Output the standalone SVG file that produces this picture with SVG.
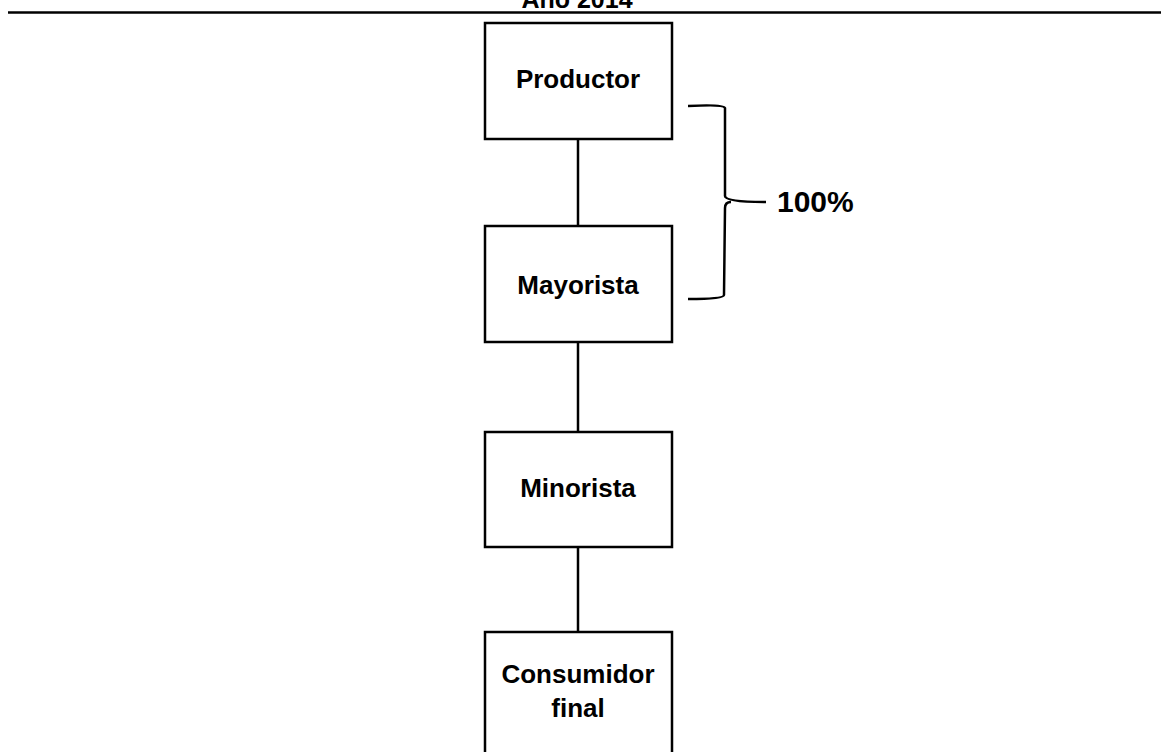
<svg xmlns="http://www.w3.org/2000/svg" width="1161" height="752" viewBox="0 0 1161 752">
<style>
.box{fill:#fff;stroke:#000;stroke-width:2.5}
.lbl{font-family:"Liberation Sans",Arial,sans-serif;font-weight:bold;font-size:26px;fill:#000;text-anchor:middle}
.con{stroke:#000;stroke-width:2.5;fill:none}
</style>
<rect width="1161" height="752" fill="#fff"/>
<g id="title">
<text x="577" y="8" class="lbl" style="font-size:25px">Año 2014</text>
<line x1="8" y1="12.5" x2="1161" y2="12.5" stroke="#000" stroke-width="2.5"/>
</g>
<g id="connectors">
<line class="con" x1="578" y1="139" x2="578" y2="226"/>
<line class="con" x1="578" y1="342" x2="578" y2="432"/>
<line class="con" x1="578" y1="547" x2="578" y2="632"/>
<path class="con" d="M688 106 Q724 104 725 108 L725 196 Q725 202 766 202 M725 208 Q725 202 731 202 M725 208 L724 295 Q724 299 688 299"/>
</g>
<g id="productor"><rect class="box" x="485" y="23" width="187" height="116"/><text class="lbl" x="578" y="88">Productor</text></g>
<g id="mayorista"><rect class="box" x="485" y="226" width="187" height="116"/><text class="lbl" x="578" y="294">Mayorista</text></g>
<g id="minorista"><rect class="box" x="485" y="432" width="187" height="115"/><text class="lbl" x="578" y="497">Minorista</text></g>
<g id="consumidor"><rect class="box" x="485" y="632" width="187" height="140"/><text class="lbl" x="578" y="683">Consumidor</text><text class="lbl" x="578" y="717">final</text></g>
<g id="pct"><text class="lbl" x="777" y="212" style="font-size:30px;text-anchor:start">100%</text></g>
</svg>
